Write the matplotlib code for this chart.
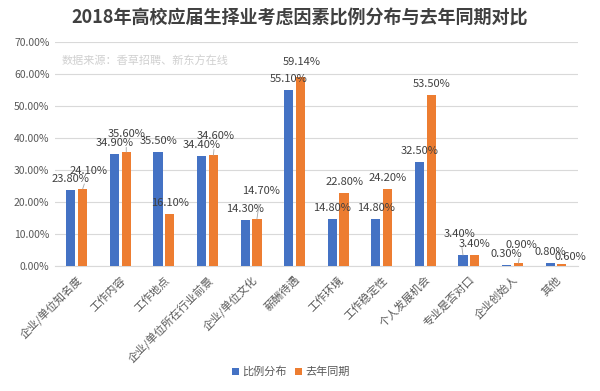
import numpy as np
import matplotlib
matplotlib.use('Agg')
import matplotlib.pyplot as plt
from matplotlib.ticker import FuncFormatter, MultipleLocator

plt.rcParams['font.family'] = ['Noto Sans CJK SC', 'DejaVu Sans']

title = '2018年高校应届生择业考虑因素比例分布与去年同期对比'
source = '数据来源：香草招聘、新东方在线'
categories = ['企业/单位知名度', '工作内容', '工作地点', '企业/单位所在行业前景', '企业/单位文化',
              '薪酬待遇', '工作环境', '工作稳定性', '个人发展机会', '专业是否对口', '企业创始人', '其他']
series_names = ['比例分布', '去年同期']
ratio = [23.80, 34.90, 35.50, 34.40, 14.30, 55.10, 14.80, 14.80, 32.50, 3.40, 0.30, 0.80]
last_year = [24.10, 35.60, 16.10, 34.60, 14.70, 59.14, 22.80, 24.20, 53.50, 3.40, 0.90, 0.60]

# label offsets in pixels from bar top (dx, dy); None = default placement
blue_off = {9: (-3, 21)}
orange_off = {0: (6, 18), 1: (0, 18), 3: (2, 19), 4: (4, 28), 5: (1, 15), 10: (3, 18), 11: (8, 7)}
leaders_blue = {9}
leaders_orange = {0, 1, 3, 4, 10}

BLUE = '#4472C4'
ORANGE = '#ED7D31'
TXT = '#595959'

fig = plt.figure(figsize=(6, 3.91), dpi=100)
ax = fig.add_axes([0.0917, 0.3197, 0.8713, 0.573])

x = np.arange(len(categories))
w = 0.21
b1 = ax.bar(x - 0.135, np.array(ratio) / 100, w, color=BLUE, label=series_names[0], zorder=3)
b2 = ax.bar(x + 0.135, np.array(last_year) / 100, w, color=ORANGE, label=series_names[1], zorder=3)


def add_labels(bars, vals, offs, leaders):
    for i, (bar, v) in enumerate(zip(bars, vals)):
        cx = bar.get_x() + bar.get_width() / 2
        dx, dy = offs.get(i, (0, 11))
        props = None
        if i in leaders:
            props = dict(arrowstyle='-', color='#a6a6a6', lw=0.6, shrinkA=4, shrinkB=0)
        ax.annotate('%.2f%%' % v, xy=(cx, v / 100), xytext=(dx, dy), textcoords='offset pixels',
                    ha='center', va='center', fontsize=8, color='#404040', arrowprops=props, zorder=4)


add_labels(b1, ratio, blue_off, leaders_blue)
add_labels(b2, last_year, orange_off, leaders_orange)

ax.set_xlim(-0.5, len(categories) - 0.5)
ax.set_ylim(0, 0.7)
ax.yaxis.set_major_locator(MultipleLocator(0.1))
ax.yaxis.set_major_formatter(FuncFormatter(lambda v, p: '%.2f%%' % (v * 100)))
ax.grid(axis='y', color='#d9d9d9', lw=0.8, zorder=0)
for s in ['top', 'right', 'left']:
    ax.spines[s].set_visible(False)
ax.spines['bottom'].set_color('#d9d9d9')
ax.tick_params(axis='both', length=0, labelsize=7.5, colors=TXT)
ax.tick_params(axis='y', pad=4)
ax.set_xticks(x)
ax.set_xticklabels(categories, rotation=45, ha='right', va='top', rotation_mode='anchor', fontsize=8)
ax.tick_params(axis='x', pad=6)

fig.text(0.5, 0.955, title, ha='center', va='center', fontsize=13, fontweight='bold', color='#404040')
fig.text(0.103, 0.846, source, ha='left', va='center', fontsize=8, color='#d0d0d0')

fig.legend(loc='center', bbox_to_anchor=(0.485, 0.049), ncol=2, frameon=False, fontsize=8,
           handlelength=0.6, handleheight=0.6, handletextpad=0.3, columnspacing=0.8, labelcolor=TXT)

fig.savefig('out.png', dpi=100, facecolor='white')
